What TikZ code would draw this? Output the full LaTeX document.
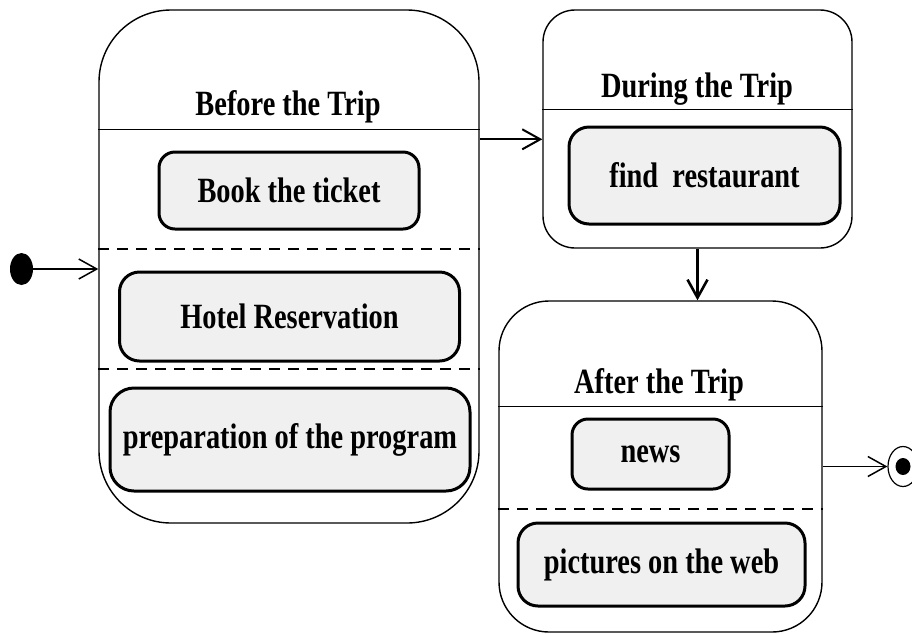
\documentclass[tikz,border=0pt]{standalone}
\usepackage{fontspec}
\newfontfamily\diafont[FakeStretch=0.8]{Liberation Serif}
\usetikzlibrary{arrows.meta,calc,shapes.geometric}
\begin{document}
\begin{tikzpicture}[x=1pt,y=-1pt,
  labelfont/.style={font=\diafont\bfseries\fontsize{35.5}{40}\selectfont},
  superstate/.style={draw, line width=1.4pt, inner sep=0pt},
  activity/.style={draw, line width=3pt, fill=black!6, rounded corners=20pt,
    inner sep=0pt, labelfont},
  statetitle/.style={anchor=base, inner sep=0pt, labelfont},
  divider/.style={line width=1.4pt},
  compartment/.style={line width=1.7pt, dash pattern=on 11pt off 8pt},
  trans/.style={line width=2pt, -{Straight Barb[length=18pt,width=20pt]}}]
  \useasboundingbox (0,0) rectangle (912,633);

  % composite states
  \node[superstate, minimum width=380pt, minimum height=513pt, rounded corners=72pt]
    (before) at (289,266.5) {};
  \node[superstate, minimum width=309pt, minimum height=238pt, rounded corners=32pt]
    (during) at (697.5,129) {};
  \node[superstate, minimum width=323pt, minimum height=331pt, rounded corners=50pt]
    (after) at (660.5,466.5) {};

  % state names
  \node[statetitle] (beforetitle) at (288,115) {Before the Trip};
  \node[statetitle] (duringtitle) at (697,97) {During the Trip};
  \node[statetitle] (aftertitle) at (659,393) {After the Trip};

  % header lines and compartments
  \draw[divider] ($(before.north west)+(0,120)$) -- ($(before.north east)+(0,120)$);
  \draw[compartment] ($(before.north west)+(0,240)$) -- ($(before.north east)+(0,240)$);
  \draw[compartment] ($(before.north west)+(0,360)$) -- ($(before.north east)+(0,360)$);
  \draw[divider] ($(during.north west)+(0,100)$) -- ($(during.north east)+(0,100)$);
  \draw[divider] ($(after.north west)+(0,106)$) -- ($(after.north east)+(0,106)$);
  \draw[compartment] ($(after.north west)+(0,209)$) -- ($(after.north east)+(0,209)$);

  % activities
  \node[activity, minimum width=260pt, minimum height=77pt, rounded corners=16pt]
    (book) at (289,190.5) {Book the ticket};
  \node[activity, minimum width=340pt, minimum height=89pt]
    (hotel) at (289.5,316.5) {Hotel Reservation};
  \node[activity, minimum width=360pt, minimum height=103pt, rounded corners=24pt]
    (prep) at (290,439.5) {preparation of the program};
  \node[activity, minimum width=271pt, minimum height=97pt]
    (find) at (704.5,175.5) {find\ \ restaurant};
  \node[activity, minimum width=157pt, minimum height=70pt, rounded corners=16pt]
    (news) at (650.5,454) {news};
  \node[activity, minimum width=287pt, minimum height=83pt]
    (pics) at (661.5,564.5) {pictures on the web};

  % initial and final states
  \node[ellipse, fill=black, inner sep=0pt, minimum width=23pt, minimum height=32pt]
    (init) at (21.5,269) {};
  \node[ellipse, draw, line width=1.2pt, inner sep=0pt, minimum width=30pt,
    minimum height=40pt] (final) at (903,466.5) {};
  \node[ellipse, fill=black, inner sep=0pt, minimum width=15pt, minimum height=17pt]
    (finaldot) at (final.center) {};

  % transitions
  \coordinate (b2d) at ($(before.north east)+(0,130)$);
  \draw[trans, line width=1.5pt] (init) -- (init -| before.west);
  \draw[trans] (b2d) -- (b2d -| during.west);
  \draw[trans, line width=2.6pt] (during.south) -- (during.south |- after.north);
  \draw[trans, line width=1.5pt] (after.east) -- (final);
\end{tikzpicture}
\end{document}
